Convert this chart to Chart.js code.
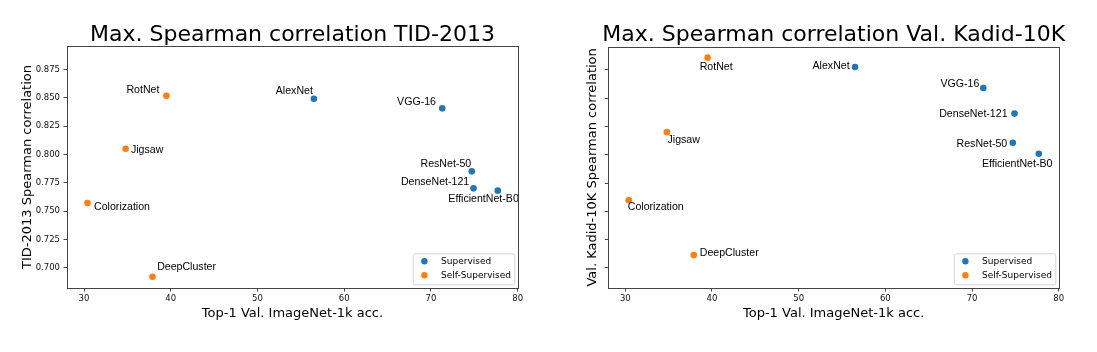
<!DOCTYPE html>
<html>
<head>
<meta charset="utf-8">
<script src="https://cdn.jsdelivr.net/npm/chart.js@4.4.0/dist/chart.umd.min.js"></script>
<style>
  body { margin: 0; background: #fff; }
  .wrap { position: absolute; top: 0; height: 352px; }
  #left { left: 0; width: 548px; }
  #right { left: 548px; width: 549px; }
</style>
</head>
<body>
<div class="wrap" id="left"><canvas id="tidChart"></canvas></div>
<div class="wrap" id="right"><canvas id="kadidChart"></canvas></div>
<script>
// data
const supModels = ['AlexNet', 'VGG-16', 'ResNet-50', 'DenseNet-121', 'EfficientNet-B0'];
const supAcc = [56.5, 71.3, 74.7, 74.9, 77.7];
const supTid = [0.849, 0.8406, 0.785, 0.770, 0.768];
const supKadid = [0.8776, 0.8591, 0.8106, 0.8364, 0.8009];

const selfModels = ['RotNet', 'Jigsaw', 'Colorization', 'DeepCluster'];
const selfAcc = [39.5, 34.8, 30.4, 37.9];
const selfTid = [0.8517, 0.805, 0.757, 0.692];
const selfKadid = [0.8859, 0.820, 0.7597, 0.7112];

const xTicks = [30, 40, 50, 60, 70, 80];
const yTicks = [0.700, 0.725, 0.750, 0.775, 0.800, 0.825, 0.850, 0.875];

const BLUE = '#1f77b4';
const ORANGE = '#ff7f0e';
const AXIS = '#444';

// label placement next to each point: [dx, dy, align]
const tidLabelPos = {
    'RotNet': [-7, -5.7, 'right'],
    'Jigsaw': [5.3, 1.3, 'left'],
    'Colorization': [6.6, 3.7, 'left'],
    'DeepCluster': [4.6, -9.3, 'left'],
    'AlexNet': [-1, -7.6, 'right'],
    'VGG-16': [-6.3, -6, 'right'],
    'ResNet-50': [-0.6, -7.7, 'right'],
    'DenseNet-121': [-4.3, -6, 'right'],
    'EfficientNet-B0': [21, 8, 'right']
};
const kadidLabelPos = {
    'RotNet': [-8, 9.7, 'left'],
    'Jigsaw': [0.6, 8.3, 'left'],
    'Colorization': [-1, 6.7, 'left'],
    'DeepCluster': [6, -1.7, 'left'],
    'AlexNet': [-5.4, -0.6, 'right'],
    'VGG-16': [-4, -4, 'right'],
    'DenseNet-121': [-7, 0.7, 'right'],
    'ResNet-50': [-5.6, 1, 'right'],
    'EfficientNet-B0': [13.6, 10, 'right']
};

function points(xs, ys) {
    return xs.map((x, i) => ({ x: x, y: ys[i] }));
}

// frame, title, point labels and the inset legend
const decorPlugin = {
    id: 'decor',
    afterDatasetsDraw(chart, args, opts) {
        const ctx = chart.ctx;
        const a = chart.chartArea;
        ctx.save();

        // point labels
        ctx.font = '10.6px "Liberation Sans", Arial, sans-serif';
        ctx.fillStyle = '#000';
        ctx.textBaseline = 'middle';
        chart.data.datasets.forEach((ds, di) => {
            const meta = chart.getDatasetMeta(di);
            meta.data.forEach((pt, i) => {
                const name = ds.names[i];
                const p = opts.labelPos[name];
                ctx.textAlign = p[2];
                ctx.fillText(name, pt.x + p[0], pt.y + p[1]);
            });
        });

        // legend box at lower right
        const w = 101.5, h = 31;
        const lx = a.right - 3.7 - w;
        const ly = a.bottom - 3.7 - h;
        ctx.fillStyle = 'rgba(255,255,255,0.8)';
        ctx.strokeStyle = '#d6d6d6';
        ctx.lineWidth = 1;
        ctx.beginPath();
        ctx.roundRect(lx + 0.5, ly + 0.5, w, h, 2);
        ctx.fill();
        ctx.stroke();
        ctx.font = '9px "DejaVu Sans", sans-serif';
        ctx.textAlign = 'left';
        chart.data.datasets.forEach((ds, di) => {
            const cy = ly + 8 + di * 14;
            ctx.fillStyle = ds.backgroundColor;
            ctx.beginPath();
            ctx.arc(lx + 11.6, cy, 3.2, 0, Math.PI * 2);
            ctx.fill();
            ctx.fillStyle = '#000';
            ctx.fillText(ds.label, lx + 28.3, cy);
        });

        // frame
        ctx.strokeStyle = AXIS;
        ctx.lineWidth = 1;
        ctx.strokeRect(Math.round(a.left) + 0.5, Math.round(a.top) + 0.5,
            Math.round(a.right - a.left), Math.round(a.bottom - a.top));

        // title
        ctx.fillStyle = '#000';
        ctx.font = '22px "DejaVu Sans", sans-serif';
        ctx.textAlign = 'center';
        ctx.textBaseline = 'alphabetic';
        ctx.fillText(opts.title, (a.left + a.right) / 2, 40.7);
        ctx.restore();
    }
};

function makeChart(id, yData, selfY, cfg) {
    const ctx = document.getElementById(id).getContext('2d');
    return new Chart(ctx, {
        type: 'scatter',
        data: {
            datasets: [{
                label: 'Supervised',
                names: supModels,
                data: points(supAcc, yData),
                backgroundColor: BLUE,
                borderWidth: 0,
                pointRadius: 3.3
            }, {
                label: 'Self-Supervised',
                names: selfModels,
                data: points(selfAcc, selfY),
                backgroundColor: ORANGE,
                borderWidth: 0,
                pointRadius: 3.3
            }]
        },
        options: {
            responsive: true,
            maintainAspectRatio: false,
            animation: false,
            events: [],
            layout: { padding: { left: 0, right: cfg.rightPad, top: cfg.topPad, bottom: 0 } },
            plugins: {
                legend: { display: false },
                tooltip: { enabled: false },
                decor: { title: cfg.title, labelPos: cfg.labelPos }
            },
            scales: {
                x: {
                    type: 'linear',
                    min: 28.04,
                    max: 80.03,
                    afterBuildTicks: (s) => { s.ticks = xTicks.map(v => ({ value: v })); },
                    afterFit: (s) => { s.height = 64; },
                    grid: { drawOnChartArea: false, drawTicks: true, tickLength: 3.5, color: AXIS },
                    border: { display: false },
                    ticks: {
                        padding: 2,
                        color: '#111',
                        font: { family: 'DejaVu Sans', size: 8.5 },
                        maxRotation: 0
                    },
                    title: {
                        display: true,
                        text: 'Top-1 Val. ImageNet-1k acc.',
                        color: '#000',
                        font: { family: 'DejaVu Sans', size: 13 },
                        padding: { top: 0, bottom: 30.5 }
                    }
                },
                y: {
                    type: 'linear',
                    min: 0.6821,
                    max: 0.8956,
                    afterBuildTicks: (s) => { s.ticks = yTicks.map(v => ({ value: v })); },
                    afterFit: (s) => { s.width = cfg.yWidth; },
                    grid: { drawOnChartArea: false, drawTicks: true, tickLength: 3.5, color: AXIS },
                    border: { display: false },
                    ticks: {
                        padding: 3.5,
                        color: '#111',
                        font: { family: 'DejaVu Sans', size: 8.5 },
                        callback: (v) => cfg.showY ? v.toFixed(3) : ''
                    },
                    title: {
                        display: true,
                        text: cfg.yTitle,
                        color: '#000',
                        font: { family: 'DejaVu Sans', size: 13 },
                        padding: { top: cfg.yTitlePad, bottom: 0 }
                    }
                }
            }
        },
        plugins: [decorPlugin]
    });
}

const tidChart = makeChart('tidChart', supTid, selfTid, {
    title: 'Max. Spearman correlation TID-2013',
    yTitle: 'TID-2013 Spearman correlation',
    labelPos: tidLabelPos,
    showY: true,
    yWidth: 67,
    yTitlePad: 19.5,
    rightPad: 30,
    topPad: 46
});

const kadidChart = makeChart('kadidChart', supKadid, selfKadid, {
    title: 'Max. Spearman correlation Val. Kadid-10K',
    yTitle: 'Val. Kadid-10K Spearman correlation',
    labelPos: kadidLabelPos,
    showY: false,
    yWidth: 60.3,
    yTitlePad: 37.2,
    rightPad: 38,
    topPad: 46.7
});
</script>
</body>
</html>
